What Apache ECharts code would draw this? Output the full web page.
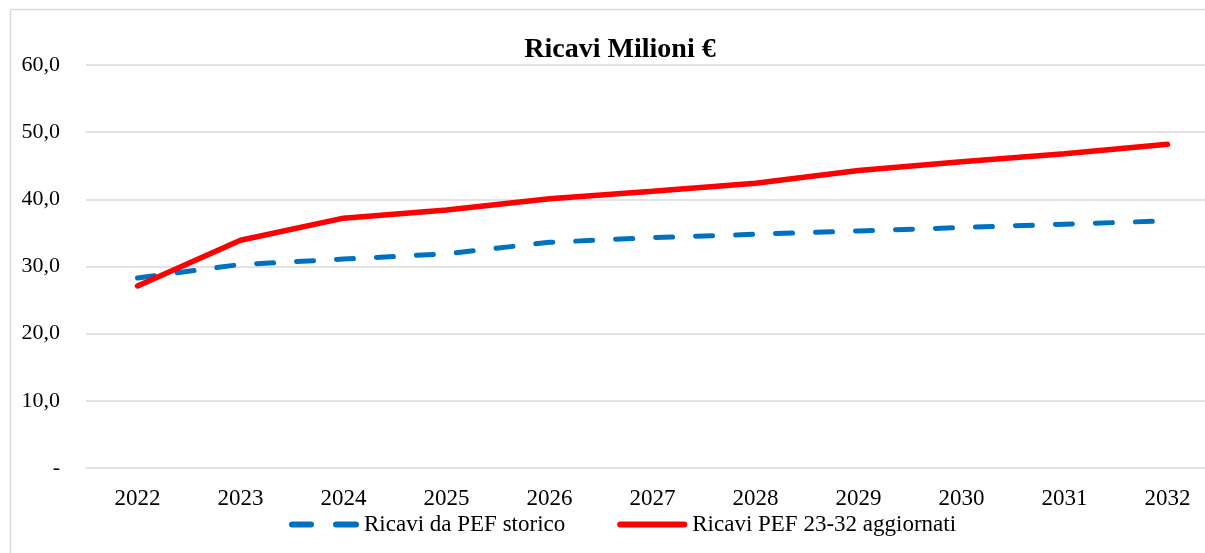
<!DOCTYPE html>
<html lang="it">
<head>
    <meta charset="UTF-8">
    <title>Ricavi Milioni €</title>
    <script src="https://cdn.jsdelivr.net/npm/echarts@6/dist/echarts.min.js"></script>
    <style>
        html, body { margin: 0; padding: 0; background: #fff; }
        #chart { width: 1205px; height: 553px; }
    </style>
</head>
<body>
    <div id="chart"></div>
<script>
// dati
var anni = ['2022', '2023', '2024', '2025', '2026', '2027', '2028', '2029', '2030', '2031', '2032'];
var ricaviStorico = [28.3, 30.3, 31.1, 31.9, 33.6, 34.3, 34.8, 35.3, 35.8, 36.3, 36.8];
var ricaviAggiornati = [27.1, 33.9, 37.2, 38.4, 40.1, 41.2, 42.4, 44.3, 45.6, 46.8, 48.2];
var nomiSerie = ['Ricavi da PEF storico', 'Ricavi PEF 23-32 aggiornati'];

var font = 'Liberation Serif, DejaVu Serif, serif';
var myChart = echarts.init(document.getElementById('chart'));

// icone della legenda: due trattini / una barra
var iconaTratteggio = 'path://M3,0H22A3,3,0,0,1,22,6H3A3,3,0,0,1,3,0Z M47,0H67A3,3,0,0,1,67,6H47A3,3,0,0,1,47,0Z';
var iconaLinea = 'path://M3,0H67A3,3,0,0,1,67,6H3A3,3,0,0,1,3,0Z';

var option = {
  backgroundColor: '#fff',
  animation: false,
  title: {
    text: 'Ricavi Milioni €',
    left: 615,
    textAlign: 'center',
    top: 31,
    textStyle: { fontFamily: font, fontSize: 28, fontWeight: 'bold', color: '#000' }
  },
  // cornice del grafico
  graphic: [{
    type: 'rect',
    shape: { x: 10.5, y: 9.5, width: 1300, height: 700 },
    style: { fill: 'none', stroke: '#d9d9d9', lineWidth: 1.5 },
    silent: true
  }],
  legend: {
    left: 284,
    top: 508,
    itemWidth: 70,
    itemHeight: 6,
    itemGap: 52,
    textStyle: { fontFamily: font, fontSize: 23, color: '#000' },
    data: [
      { name: nomiSerie[0], icon: iconaTratteggio },
      { name: nomiSerie[1], icon: iconaLinea }
    ]
  },
  // l'area del grafico prosegue oltre il bordo destro dell'immagine
  grid: { left: 86, right: -14, top: 65, bottom: 85, outerBoundsMode: 'none', containLabel: false },
  xAxis: {
    type: 'category',
    data: anni,
    boundaryGap: true,
    axisLine: { show: false },
    axisTick: { show: false },
    axisLabel: { fontFamily: font, fontSize: 23, color: '#000', margin: 19 }
  },
  yAxis: {
    type: 'value',
    min: 0,
    max: 60,
    interval: 10,
    axisLine: { show: false },
    axisTick: { show: false },
    splitLine: { lineStyle: { color: '#d9d9d9', width: 1.5 } },
    axisLabel: {
      fontFamily: font, fontSize: 22, color: '#000', margin: 26,
      formatter: function (v) {
        return v === 0 ? '-' : v.toFixed(1).replace('.', ',');
      }
    }
  },
  series: [
    {
      name: nomiSerie[0],
      type: 'line',
      data: ricaviStorico,
      symbol: 'none',
      color: '#0070C0',
      lineStyle: { color: '#0070C0', width: 5, type: [17, 23], cap: 'round' }
    },
    {
      name: nomiSerie[1],
      type: 'line',
      data: ricaviAggiornati,
      symbol: 'none',
      color: '#FF0000',
      lineStyle: { color: '#FF0000', width: 5.5, cap: 'round' }
    }
  ]
};

myChart.setOption(option);
</script>
</body>
</html>
